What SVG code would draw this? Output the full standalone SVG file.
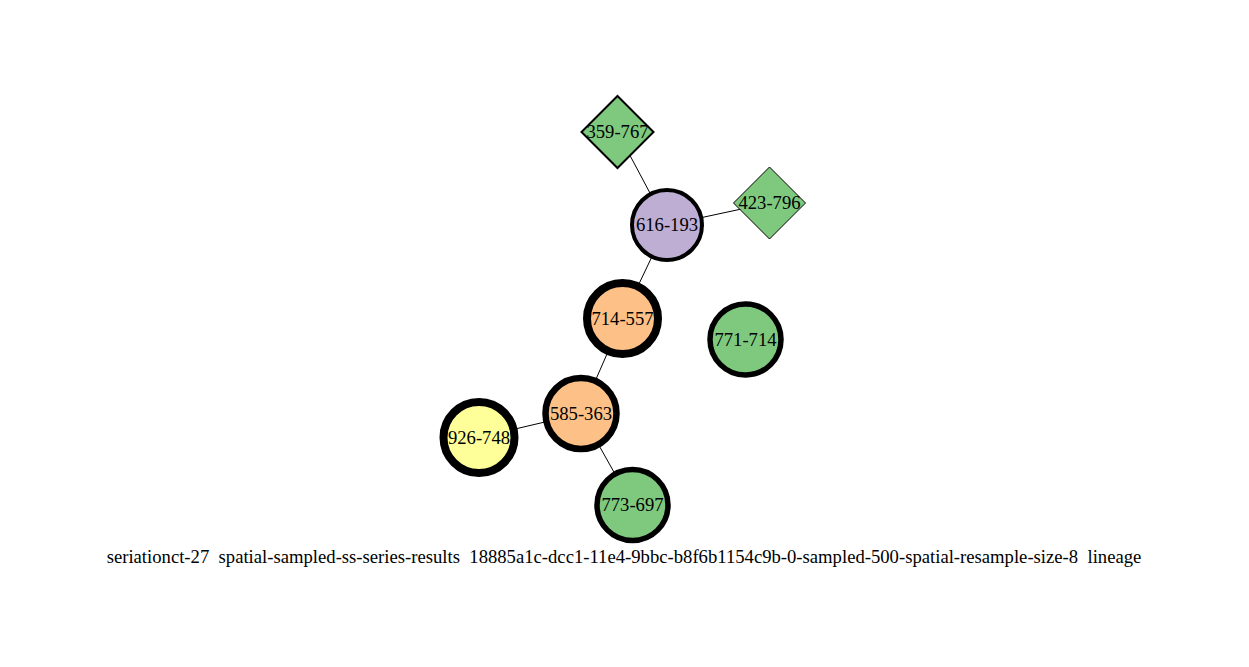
<svg xmlns="http://www.w3.org/2000/svg" width="1249" height="667" viewBox="0 0 1249 667">
<style>
text{font-family:"Liberation Serif","Times New Roman",serif;font-size:18.67px;fill:#000;text-anchor:middle}
.t{white-space:pre}
.e{stroke:#000;stroke-width:1;fill:none}
.g{fill:#7fc97f}
.p{fill:#beaed4}
.o{fill:#fdc086}
.y{fill:#ffff99}
.n{stroke:#000}
</style>
<rect width="1249" height="667" fill="#fff"/>
<g id="edges">
<line class="e" x1="617.5" y1="132" x2="667" y2="225"/>
<line class="e" x1="667" y1="225" x2="769.5" y2="203"/>
<line class="e" x1="667" y1="225" x2="622.5" y2="318.5"/>
<line class="e" x1="622.5" y1="318.5" x2="581" y2="413.5"/>
<line class="e" x1="581" y1="413.5" x2="479" y2="437.5"/>
<line class="e" x1="581" y1="413.5" x2="632.5" y2="505"/>
</g>
<g id="n359-767"><polygon class="n g" stroke-width="2" points="617.5,96 653.5,132 617.5,168 581.5,132"/><text x="617.5" y="138">359-767</text></g>
<g id="n423-796"><polygon class="n g" stroke-width="1" points="769.5,167 805.5,203 769.5,239 733.5,203"/><text x="769.5" y="209">423-796</text></g>
<g id="n616-193"><circle class="n p" stroke-width="4" cx="667" cy="225" r="35"/><text x="667" y="231">616-193</text></g>
<g id="n714-557"><circle class="n o" stroke-width="8" cx="622.5" cy="318.5" r="35.5"/><text x="622.5" y="324.5">714-557</text></g>
<g id="n771-714"><circle class="n g" stroke-width="5.5" cx="745.5" cy="339.5" r="35.5"/><text x="745.5" y="345.5">771-714</text></g>
<g id="n585-363"><circle class="n o" stroke-width="6.5" cx="581" cy="413.5" r="35.5"/><text x="581" y="419.5">585-363</text></g>
<g id="n926-748"><circle class="n y" stroke-width="8" cx="479" cy="437.5" r="35.5"/><text x="479" y="443.5">926-748</text></g>
<g id="n773-697"><circle class="n g" stroke-width="5.5" cx="632.5" cy="505" r="35.5"/><text x="632.5" y="511">773-697</text></g>
<text class="t" x="624" y="563">seriationct-27  spatial-sampled-ss-series-results  18885a1c-dcc1-11e4-9bbc-b8f6b1154c9b-0-sampled-500-spatial-resample-size-8  lineage</text>
</svg>
